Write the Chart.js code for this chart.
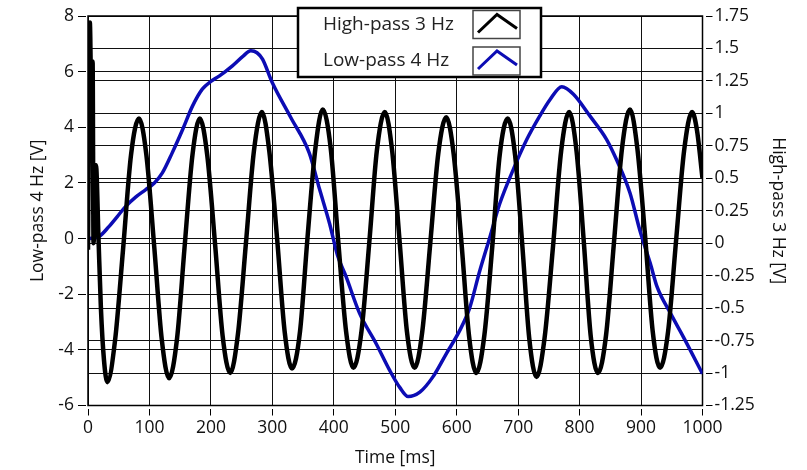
<!DOCTYPE html>
<html>
<head>
<meta charset="utf-8">
<script src="https://cdn.jsdelivr.net/npm/chart.js@4.4.1/dist/chart.umd.min.js"></script>
<style>
html,body{margin:0;padding:0;background:#fff;}
#wrap{position:relative;width:807px;height:470px;}
</style>
</head>
<body>
<div id="wrap"><canvas id="grafico" width="807" height="470"></canvas></div>
<script>
// ===== DATOS =====
const hpLabel="High-pass 3 Hz";
const lpLabel="Low-pass 4 Hz";

// High-pass 3 Hz (right axis) - time [ms] / volts
const hpTime=[0,3,6,7.5,9,11,13,17,21,26,31.5,
 44,57,70,83, 95,108,120,132, 145,157,170,182, 194,207,219,231.5,
 244,257,270,283, 295,308,320,332, 345,357,370,382, 395,407,420,432,
 445,458,470,483, 495,507,519,531.5, 544,557,570,583, 595,608,620,632,
 645,658,670,683, 695,707,718,730, 743,757,770,783, 795,807,818,830,
 843,856,869,882, 894,907,919,931, 944,957,970,983, 991,1000];
const hpVolts=[-0.05,1.70,0.9,1.4,0.0,0.3,0.6,0.05,-0.5,-0.9,-1.07,
 -0.75,-0.05,0.68,0.96, 0.68,-0.04,-0.74,-1.04, -0.73,-0.04,0.68,0.96, 0.68,-0.02,-0.71,-1.00,
 -0.70,0.0,0.71,1.01, 0.71,0.02,-0.68,-0.965, -0.68,0.03,0.73,1.03, 0.73,0.03,-0.68,-0.96,
 -0.68,0.02,0.71,1.01, 0.71,0.02,-0.68,-0.96, -0.68,0.0,0.69,0.97, 0.69,-0.01,-0.71,-1.00,
 -0.71,-0.02,0.68,0.96, 0.68,-0.03,-0.73,-1.03, -0.73,-0.01,0.71,1.01, 0.71,0.0,-0.71,-1.00,
 -0.71,0.01,0.73,1.03, 0.73,0.03,-0.68,-0.96, -0.68,0.02,0.71,1.01, 0.87,0.50];

// Low-pass 4 Hz (left axis)
const lpTime=[0,8,18,34,48,61,78,94,108,121,137,154,170,186,200,214,235,252,265,275,
 284,300,330,360,377,393,406,420,442,469,491,507,521,540,561,583,605,621,637,654,
 670,692,714,735,752,771,790,817,844,860,882,898,915,926,948,969,1000];
const lpVolts=[0,0.02,0.07,0.43,0.8,1.15,1.5,1.76,2.0,2.36,3.08,3.92,4.76,5.37,5.65,5.85,6.21,6.55,6.75,6.68,
 6.45,5.6,4.35,3.08,1.76,0.55,-0.6,-1.37,-2.69,-3.78,-4.74,-5.34,-5.68,-5.52,-4.98,-4.14,-3.30,-2.5,-1.2,0.05,
 1.25,2.48,3.56,4.4,5.0,5.46,5.19,4.40,3.56,2.84,1.64,0.3,-0.89,-1.73,-2.69,-3.54,-4.86];

const timeTicks=[0,100,200,300,400,500,600,700,800,900,1000];
const leftTicks=[-6,-4,-2,0,2,4,6,8];
const rightTicks=[-1.25,-1,-0.75,-0.5,-0.25,0,0.25,0.5,0.75,1,1.25,1.5,1.75];

// ===== ESTILO =====
const fuente='"Open Sans","Noto Sans",sans-serif';
Chart.defaults.font.family=fuente;
Chart.defaults.font.size=17.5;
Chart.defaults.color='#111';

const pares=(xs,ys)=>xs.map((x,i)=>({x:x,y:ys[i]}));
const fijarTicks=arr=>s=>{s.ticks=arr.map(v=>({value:v}));};

// chart area frame
const marco={
 id:"marco",
 beforeDatasetsDraw(chart){
  const a=chart.chartArea,c=chart.ctx;
  c.save();
  c.strokeStyle="#000";
  c.lineWidth=1.5;
  c.strokeRect(a.left,a.top,a.right-a.left,a.bottom-a.top);
  c.restore();
 }
};

// LabVIEW style legend box
const leyenda={
 id:"leyenda",
 afterDraw(chart){
  const c=chart.ctx;
  c.save();
  c.fillStyle="#fff";
  c.fillRect(298,8,243,69);
  c.strokeStyle="#000";
  c.lineWidth=2.5;
  c.strokeRect(298,8,243,69);
  chart.data.datasets.forEach((ds,i)=>{
   const cy=24.5+i*36.5;
   c.fillStyle="#222";
   c.font="19px "+fuente;
   c.textBaseline="middle";
   c.textAlign="left";
   c.fillText(ds.label,323,cy);
   c.strokeStyle="#444";
   c.lineWidth=1.5;
   c.strokeRect(473,cy-14,47,28);
   c.beginPath();
   c.moveTo(478,cy+8);
   c.lineTo(497,cy-10);
   c.lineTo(517,cy+4);
   c.strokeStyle=ds.borderColor;
   c.lineWidth=3;
   c.stroke();
  });
  c.restore();
 }
};

const rejilla={color:"#111",lineWidth:1,tickLength:10,tickColor:"#000",tickWidth:1};

new Chart(document.getElementById("grafico"),{
 type:"line",
 data:{datasets:[
  {label:hpLabel,data:pares(hpTime,hpVolts),yAxisID:"yR",borderColor:"#000",borderWidth:4.5,
   pointRadius:0,cubicInterpolationMode:"monotone",fill:false},
  {label:lpLabel,data:pares(lpTime,lpVolts),yAxisID:"yL",borderColor:"#0c0cb4",borderWidth:3.5,
   pointRadius:0,cubicInterpolationMode:"monotone",fill:false}
 ]},
 options:{
  responsive:false,
  animation:false,
  layout:{padding:{top:16,left:0,right:0,bottom:0}},
  plugins:{legend:{display:false},tooltip:{enabled:false}},
  scales:{
   x:{type:"linear",min:0,max:1000,
    afterBuildTicks:fijarTicks(timeTicks),
    afterFit:s=>{s.height=64.5;},
    ticks:{autoSkip:false,maxRotation:0,padding:2,callback:v=>String(v)},
    grid:{...rejilla,tickBorderDash:[7,3],tickBorderDashOffset:7},
    border:{display:false},
    title:{display:true,text:"Time [ms]",padding:{top:0,bottom:1}}
   },
   yL:{type:"linear",position:"left",min:-6,max:8,
    afterBuildTicks:fijarTicks(leftTicks),
    afterFit:s=>{s.width=88;},
    ticks:{padding:4,callback:v=>String(v)},
    grid:{...rejilla,tickBorderDash:[8,2]},
    border:{display:false},
    title:{display:true,text:"Low-pass 4 Hz [V]",padding:{top:28,bottom:0}}
   },
   yR:{type:"linear",position:"right",min:-1.25,max:1.75,
    afterBuildTicks:fijarTicks(rightTicks),
    afterFit:s=>{s.width=104.5;},
    ticks:{padding:2,callback:v=>String(v)},
    grid:{...rejilla,tickBorderDash:[7,3],tickBorderDashOffset:7},
    border:{display:false},
    title:{display:true,text:"High-pass 3 Hz [V]",padding:{top:19,bottom:0}}
   }
  }
 },
 plugins:[marco,leyenda]
});
</script>
</body>
</html>
